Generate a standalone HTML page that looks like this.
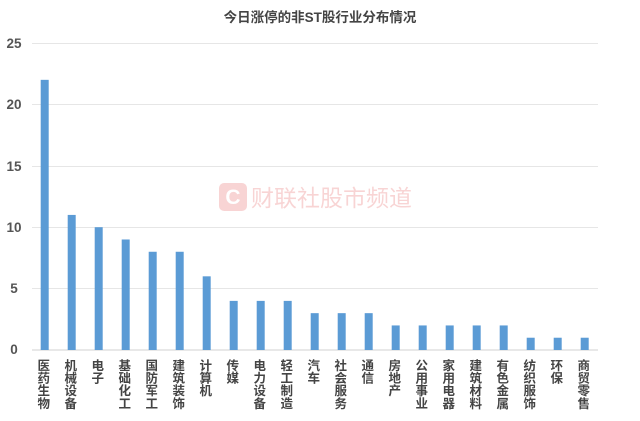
<!DOCTYPE html>
<html><head><meta charset="utf-8"><style>
body{margin:0;background:#fff;width:640px;height:416px;overflow:hidden;font-family:"Liberation Sans","Noto Sans CJK SC",sans-serif}
</style></head><body>
<svg width="640" height="416" xmlns="http://www.w3.org/2000/svg" font-family="Liberation Sans, Noto Sans CJK SC, sans-serif">
<text x="320" y="22" text-anchor="middle" font-size="13.5" font-weight="bold" fill="#444">今日涨停的非ST股行业分布情况</text>
<g stroke="#e6e6e6" stroke-width="1">
<line x1="32" x2="598" y1="43.5" y2="43.5"/><line x1="32" x2="598" y1="104.5" y2="104.5"/><line x1="32" x2="598" y1="166.5" y2="166.5"/><line x1="32" x2="598" y1="227.5" y2="227.5"/><line x1="32" x2="598" y1="288.5" y2="288.5"/>
</g>
<line x1="32" x2="598" y1="350" y2="350" stroke="#d0d0d0"/>
<g font-size="13.5" fill="#555" text-anchor="middle" font-weight="bold">
<text x="14" y="48">25</text><text x="14" y="109">20</text><text x="14" y="171">15</text><text x="14" y="232">10</text><text x="14" y="293">5</text><text x="14" y="354">0</text>
</g>
<g opacity="0.2">
<rect x="219" y="183" width="28" height="28" rx="5" fill="#e03030"/>
<text x="233" y="204" text-anchor="middle" font-size="21" font-weight="bold" fill="#fff">C</text>
<text x="251" y="206" font-size="23" fill="#e03030">财联社股市频道</text>
</g>
<g id="bars" fill="#5b9bd5"></g>
<g id="labels" font-size="12.5" fill="#444" text-anchor="middle" font-weight="bold"></g>
</svg>
<script>
var v=[22,11,10,9,8,8,6,4,4,4,3,3,3,2,2,2,2,2,1,1,1];
var n=["医药生物","机械设备","电子","基础化工","国防军工","建筑装饰","计算机","传媒","电力设备","轻工制造","汽车","社会服务","通信","房地产","公用事业","家用电器","建筑材料","有色金属","纺织服饰","环保","商贸零售"];
var ns="http://www.w3.org/2000/svg",b=document.getElementById("bars"),l=document.getElementById("labels");
for(var i=0;i<v.length;i++){var cx=44.7+i*27.0;var h=v[i]*12.28;
var r=document.createElementNS(ns,"rect");r.setAttribute("x",cx-4);r.setAttribute("y",350-h);r.setAttribute("width",8);r.setAttribute("height",h);b.appendChild(r);
for(var j=0;j<n[i].length;j++){var t=document.createElementNS(ns,"text");t.setAttribute("x",cx-1);t.setAttribute("y",370+j*12.6);t.textContent=n[i][j];l.appendChild(t);}}
</script>
</body></html>
